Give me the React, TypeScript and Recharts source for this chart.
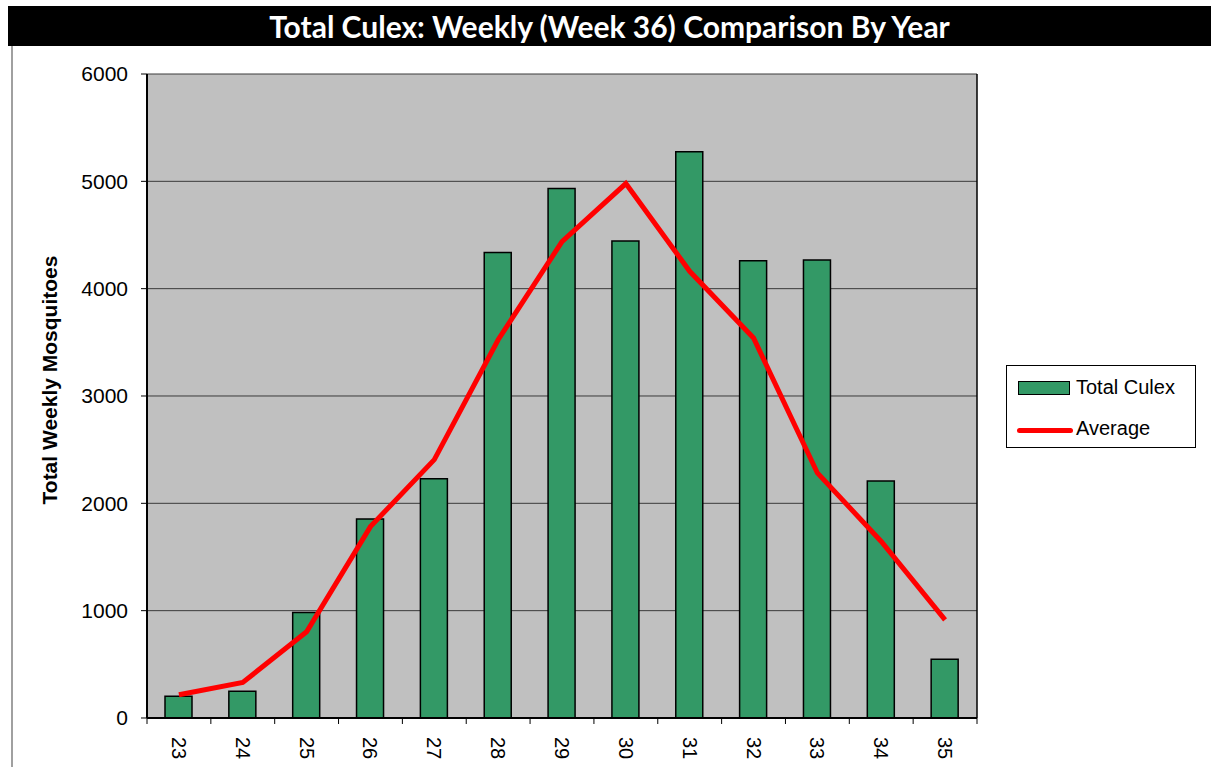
import { ComposedChart, Bar, Line, XAxis, YAxis, CartesianGrid } from "recharts"

const weeks = ["23", "24", "25", "26", "27", "28", "29", "30", "31", "32", "33", "34", "35"]
const totalCulex = [203, 248, 983, 1855, 2228, 4338, 4934, 4445, 5276, 4259, 4266, 2207, 548]
const average = [217, 331, 803, 1783, 2407, 3524, 4438, 4979, 4162, 3541, 2283, 1645, 914]
const yTicks = [0, 1000, 2000, 3000, 4000, 5000, 6000]

const chartData = weeks.map((w, i) => ({ week: w, total: totalCulex[i], avg: average[i] }))

const PLOT_LEFT = 147
const PLOT_RIGHT = 977
const BAND = (PLOT_RIGHT - PLOT_LEFT) / weeks.length

const WeekTick = (props: any) => {
  const { x, y, payload, index } = props
  return (
    <g>
      <line x1={x - BAND / 2} y1={y - 8} x2={x - BAND / 2} y2={y - 2} stroke="#000" />
      {index === weeks.length - 1 && (
        <line x1={x + BAND / 2} y1={y - 8} x2={x + BAND / 2} y2={y - 2} stroke="#000" />
      )}
      <text
        x={x + 11}
        y={y}
        transform={`rotate(90, ${x}, ${y})`}
        fontFamily="Liberation Sans, Arial, sans-serif"
        fontSize={20}
        fill="#000"
        textAnchor="start"
        dominantBaseline="central"
      >
        {payload.value}
      </text>
    </g>
  )
}

export default function App() {
  return (
    <div style={{ position: "absolute", left: 0, top: 0, width: 1211, height: 767, background: "#fff", overflow: "hidden" }}>
      <div
        style={{
          position: "absolute",
          left: 8,
          top: 6,
          width: 1203,
          height: 40,
          background: "#000",
          color: "#fff",
          fontFamily: "Lato, sans-serif",
          fontWeight: 700,
          fontSize: 30,
          lineHeight: "40px",
          textAlign: "center",
        }}
      >
        Total Culex: Weekly (Week 36) Comparison By Year
      </div>
      <div style={{ position: "absolute", left: 11, top: 46, width: 2, height: 721, background: "#a0a0a0" }} />
      <div
        style={{
          position: "absolute",
          left: 50,
          top: 380,
          transform: "translate(-50%, -50%) rotate(-90deg)",
          whiteSpace: "nowrap",
          fontFamily: "Liberation Sans, Arial, sans-serif",
          fontWeight: 700,
          fontSize: 21,
        }}
      >
        Total Weekly Mosquitoes
      </div>
      <ComposedChart
        width={1211}
        height={767}
        data={chartData}
        margin={{ top: 74, right: 1211 - PLOT_RIGHT - 2, bottom: 49, left: PLOT_LEFT - 80 }}
        barCategoryGap={0}
        style={{ position: "absolute", left: 0, top: 0 }}
      >
        <CartesianGrid vertical={false} fill="#c0c0c0" stroke="#3a3a3a" strokeWidth={1} />
        <XAxis
          dataKey="week"
          height={0.01}
          tickLine={false}
          axisLine={{ stroke: "#000", strokeWidth: 2 }}
          tick={<WeekTick />}
          interval={0}
        />
        <YAxis
          width={80}
          domain={[0, 6000]}
          ticks={yTicks}
          interval={0}
          tickSize={6}
          tickLine={{ stroke: "#000" }}
          axisLine={{ stroke: "#000", strokeWidth: 2 }}
          tick={{ fill: "#000", fontSize: 21, fontFamily: "Liberation Sans, Arial, sans-serif" }}
          tickMargin={13}
        />
        <YAxis yAxisId="r" orientation="right" width={2} tick={false} tickLine={false} axisLine={{ stroke: "#000", strokeWidth: 1.5 }} domain={[0, 6000]} />
        <Bar dataKey="total" fill="#339966" stroke="#000" strokeWidth={1.5} barSize={27} isAnimationActive={false} />
        <Line dataKey="avg" type="linear" stroke="#ff0000" strokeWidth={5} dot={false} isAnimationActive={false} />
      </ComposedChart>
      <div
        style={{
          position: "absolute",
          left: 1006,
          top: 365,
          width: 190,
          height: 83,
          border: "1px solid #000",
          boxSizing: "border-box",
          fontFamily: "Liberation Sans, Arial, sans-serif",
          fontSize: 20,
          background: "#fff",
        }}
      >
        <div style={{ position: "absolute", left: 11, top: 15, width: 52, height: 14, background: "#339966", border: "1.5px solid #000", boxSizing: "border-box" }} />
        <div style={{ position: "absolute", left: 69, top: 10 }}>Total Culex</div>
        <div style={{ position: "absolute", left: 10, top: 62, width: 56, height: 5, background: "#ff0000", borderRadius: 3 }} />
        <div style={{ position: "absolute", left: 69, top: 51 }}>Average</div>
      </div>
    </div>
  )
}
